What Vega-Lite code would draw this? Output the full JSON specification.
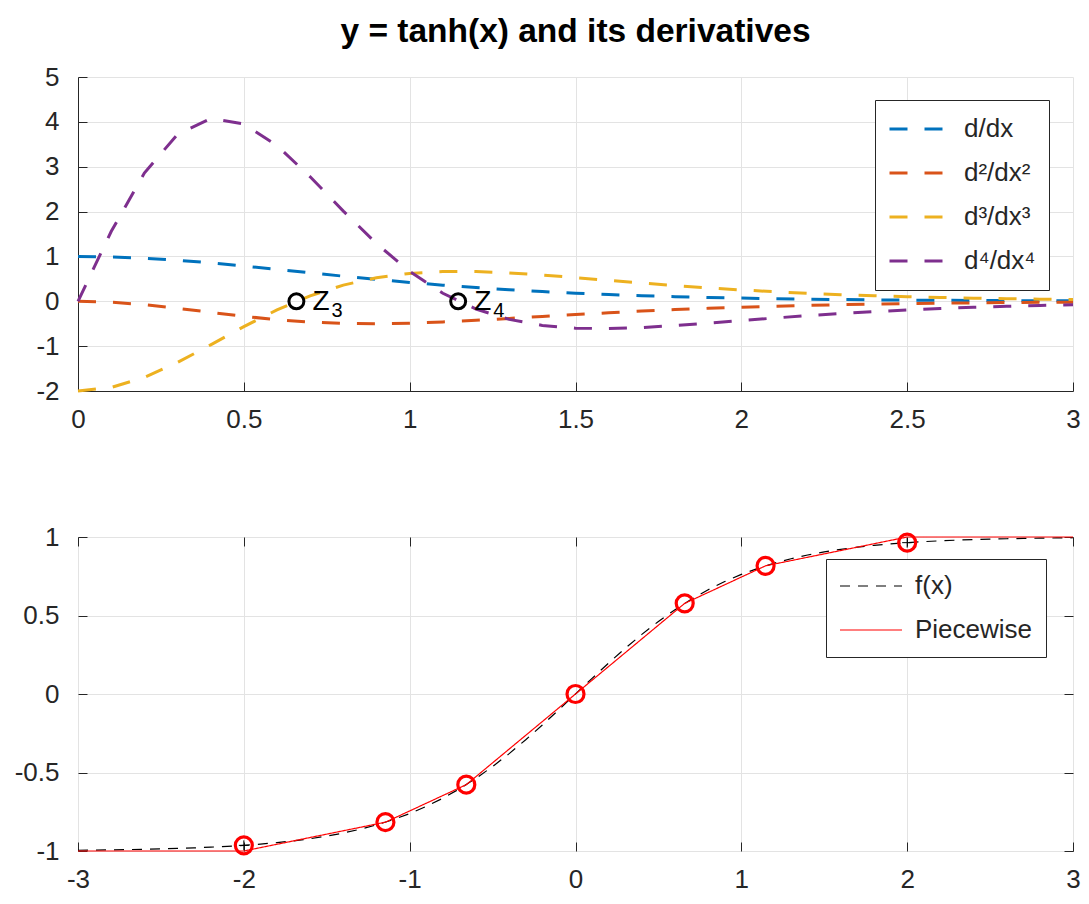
{
  "$schema": "https://vega.github.io/schema/vega-lite/v6.json",
  "background": "white",
  "padding": {"left": 13, "top": 14, "right": 16, "bottom": 10},
  "config": {"font": "Liberation Sans", "view": {"stroke": null}},
  "spacing": 91,
  "resolve": {"scale": {"color": "independent", "strokeDash": "independent"}, "legend": {"color": "independent", "strokeDash": "independent"}},
  "datasets": {
    "deriv": [
      {"x":0,"v":1,"s":"d/dx"},{"x":0.1,"v":0.9901,"s":"d/dx"},{"x":0.2,"v":0.961,"s":"d/dx"},{"x":0.3,"v":0.9151,"s":"d/dx"},{"x":0.4,"v":0.8556,"s":"d/dx"},{"x":0.5,"v":0.7864,"s":"d/dx"},{"x":0.6,"v":0.7116,"s":"d/dx"},{"x":0.7,"v":0.6347,"s":"d/dx"},{"x":0.8,"v":0.5591,"s":"d/dx"},{"x":0.9,"v":0.4869,"s":"d/dx"},{"x":1.0,"v":0.42,"s":"d/dx"},{"x":1.1,"v":0.3592,"s":"d/dx"},{"x":1.2,"v":0.305,"s":"d/dx"},{"x":1.3,"v":0.2574,"s":"d/dx"},{"x":1.4,"v":0.2162,"s":"d/dx"},{"x":1.5,"v":0.1807,"s":"d/dx"},{"x":1.6,"v":0.1505,"s":"d/dx"},{"x":1.7,"v":0.125,"s":"d/dx"},{"x":1.8,"v":0.1036,"s":"d/dx"},{"x":1.9,"v":0.0856,"s":"d/dx"},{"x":2.0,"v":0.0707,"s":"d/dx"},{"x":2.1,"v":0.0582,"s":"d/dx"},{"x":2.2,"v":0.0479,"s":"d/dx"},{"x":2.3,"v":0.0394,"s":"d/dx"},{"x":2.4,"v":0.0324,"s":"d/dx"},{"x":2.5,"v":0.0266,"s":"d/dx"},{"x":2.6,"v":0.0218,"s":"d/dx"},{"x":2.7,"v":0.0179,"s":"d/dx"},{"x":2.8,"v":0.0147,"s":"d/dx"},{"x":2.9,"v":0.012,"s":"d/dx"},{"x":3.0,"v":0.0099,"s":"d/dx"},
      {"x":0,"v":0,"s":"d²/dx²"},{"x":0.1,"v":-0.0197,"s":"d²/dx²"},{"x":0.2,"v":-0.0749,"s":"d²/dx²"},{"x":0.3,"v":-0.1553,"s":"d²/dx²"},{"x":0.4,"v":-0.247,"s":"d²/dx²"},{"x":0.5,"v":-0.3359,"s":"d²/dx²"},{"x":0.6,"v":-0.4105,"s":"d²/dx²"},{"x":0.7,"v":-0.4637,"s":"d²/dx²"},{"x":0.8,"v":-0.493,"s":"d²/dx²"},{"x":0.9,"v":-0.4997,"s":"d²/dx²"},{"x":1.0,"v":-0.4872,"s":"d²/dx²"},{"x":1.1,"v":-0.4604,"s":"d²/dx²"},{"x":1.2,"v":-0.424,"s":"d²/dx²"},{"x":1.3,"v":-0.3823,"s":"d²/dx²"},{"x":1.4,"v":-0.3389,"s":"d²/dx²"},{"x":1.5,"v":-0.2961,"s":"d²/dx²"},{"x":1.6,"v":-0.2557,"s":"d²/dx²"},{"x":1.7,"v":-0.2188,"s":"d²/dx²"},{"x":1.8,"v":-0.1857,"s":"d²/dx²"},{"x":1.9,"v":-0.1566,"s":"d²/dx²"},{"x":2.0,"v":-0.1313,"s":"d²/dx²"},{"x":2.1,"v":-0.1097,"s":"d²/dx²"},{"x":2.2,"v":-0.0913,"s":"d²/dx²"},{"x":2.3,"v":-0.0757,"s":"d²/dx²"},{"x":2.4,"v":-0.0627,"s":"d²/dx²"},{"x":2.5,"v":-0.0518,"s":"d²/dx²"},{"x":2.6,"v":-0.0427,"s":"d²/dx²"},{"x":2.7,"v":-0.0352,"s":"d²/dx²"},{"x":2.8,"v":-0.0289,"s":"d²/dx²"},{"x":2.9,"v":-0.0238,"s":"d²/dx²"},{"x":3.0,"v":-0.0195,"s":"d²/dx²"},
      {"x":0,"v":-2,"s":"d³/dx³"},{"x":0.1,"v":-1.9211,"s":"d³/dx³"},{"x":0.2,"v":-1.6975,"s":"d³/dx³"},{"x":0.3,"v":-1.3643,"s":"d³/dx³"},{"x":0.4,"v":-0.9702,"s":"d³/dx³"},{"x":0.5,"v":-0.5652,"s":"d³/dx³"},{"x":0.6,"v":-0.1917,"s":"d³/dx³"},{"x":0.7,"v":0.1216,"s":"d³/dx³"},{"x":0.8,"v":0.361,"s":"d³/dx³"},{"x":0.9,"v":0.5251,"s":"d³/dx³"},{"x":1.0,"v":0.6216,"s":"d³/dx³"},{"x":1.1,"v":0.6627,"s":"d³/dx³"},{"x":1.2,"v":0.6619,"s":"d³/dx³"},{"x":1.3,"v":0.6321,"s":"d³/dx³"},{"x":1.4,"v":0.5843,"s":"d³/dx³"},{"x":1.5,"v":0.5269,"s":"d³/dx³"},{"x":1.6,"v":0.4662,"s":"d³/dx³"},{"x":1.7,"v":0.4063,"s":"d³/dx³"},{"x":1.8,"v":0.3499,"s":"d³/dx³"},{"x":1.9,"v":0.2985,"s":"d³/dx³"},{"x":2.0,"v":0.2527,"s":"d³/dx³"},{"x":2.1,"v":0.2126,"s":"d³/dx³"},{"x":2.2,"v":0.1779,"s":"d³/dx³"},{"x":2.3,"v":0.1483,"s":"d³/dx³"},{"x":2.4,"v":0.1232,"s":"d³/dx³"},{"x":2.5,"v":0.1021,"s":"d³/dx³"},{"x":2.6,"v":0.0844,"s":"d³/dx³"},{"x":2.7,"v":0.0697,"s":"d³/dx³"},{"x":2.8,"v":0.0574,"s":"d³/dx³"},{"x":2.9,"v":0.0473,"s":"d³/dx³"},{"x":3.0,"v":0.0389,"s":"d³/dx³"},
      {"x":0,"v":0,"s":"d⁴/dx⁴"},{"x":0.1,"v":1.5553,"s":"d⁴/dx⁴"},{"x":0.2,"v":2.8576,"s":"d⁴/dx⁴"},{"x":0.3,"v":3.7225,"s":"d⁴/dx⁴"},{"x":0.4,"v":4.0752,"s":"d⁴/dx⁴"},{"x":0.5,"v":3.9522,"s":"d⁴/dx⁴"},{"x":0.6,"v":3.4691,"s":"d⁴/dx⁴"},{"x":0.7,"v":2.775,"s":"d⁴/dx⁴"},{"x":0.8,"v":2.0111,"s":"d⁴/dx⁴"},{"x":0.9,"v":1.2856,"s":"d⁴/dx⁴"},{"x":1.0,"v":0.6651,"s":"d⁴/dx⁴"},{"x":1.1,"v":0.1785,"s":"d⁴/dx⁴"},{"x":1.2,"v":-0.1728,"s":"d⁴/dx⁴"},{"x":1.3,"v":-0.4041,"s":"d⁴/dx⁴"},{"x":1.4,"v":-0.5382,"s":"d⁴/dx⁴"},{"x":1.5,"v":-0.5992,"s":"d⁴/dx⁴"},{"x":1.6,"v":-0.6087,"s":"d⁴/dx⁴"},{"x":1.7,"v":-0.5846,"s":"d⁴/dx⁴"},{"x":1.8,"v":-0.5407,"s":"d⁴/dx⁴"},{"x":1.9,"v":-0.4867,"s":"d⁴/dx⁴"},{"x":2.0,"v":-0.4294,"s":"d⁴/dx⁴"},{"x":2.1,"v":-0.3731,"s":"d⁴/dx⁴"},{"x":2.2,"v":-0.3203,"s":"d⁴/dx⁴"},{"x":2.3,"v":-0.2725,"s":"d⁴/dx⁴"},{"x":2.4,"v":-0.2301,"s":"d⁴/dx⁴"},{"x":2.5,"v":-0.1932,"s":"d⁴/dx⁴"},{"x":2.6,"v":-0.1614,"s":"d⁴/dx⁴"},{"x":2.7,"v":-0.1343,"s":"d⁴/dx⁴"},{"x":2.8,"v":-0.1115,"s":"d⁴/dx⁴"},{"x":2.9,"v":-0.0923,"s":"d⁴/dx⁴"},{"x":3.0,"v":-0.0762,"s":"d⁴/dx⁴"}
    ],
    "zeros": [
      {"x":0.6585,"y":0,"label":"Z","sub":"3"},
      {"x":1.1462,"y":0,"label":"Z","sub":"4"}
    ],
    "bottom": [
      {"x":-3.0,"y":-0.9951,"c":"f(x)"},{"x":-2.9,"y":-0.994,"c":"f(x)"},{"x":-2.8,"y":-0.9926,"c":"f(x)"},{"x":-2.7,"y":-0.991,"c":"f(x)"},{"x":-2.6,"y":-0.989,"c":"f(x)"},{"x":-2.5,"y":-0.9866,"c":"f(x)"},{"x":-2.4,"y":-0.9837,"c":"f(x)"},{"x":-2.3,"y":-0.9801,"c":"f(x)"},{"x":-2.2,"y":-0.9757,"c":"f(x)"},{"x":-2.1,"y":-0.9705,"c":"f(x)"},{"x":-2.0,"y":-0.964,"c":"f(x)"},{"x":-1.9,"y":-0.9562,"c":"f(x)"},{"x":-1.8,"y":-0.9468,"c":"f(x)"},{"x":-1.7,"y":-0.9354,"c":"f(x)"},{"x":-1.6,"y":-0.9217,"c":"f(x)"},{"x":-1.5,"y":-0.9051,"c":"f(x)"},{"x":-1.4,"y":-0.8854,"c":"f(x)"},{"x":-1.3,"y":-0.8617,"c":"f(x)"},{"x":-1.2,"y":-0.8337,"c":"f(x)"},{"x":-1.1,"y":-0.8005,"c":"f(x)"},{"x":-1.0,"y":-0.7616,"c":"f(x)"},{"x":-0.9,"y":-0.7163,"c":"f(x)"},{"x":-0.8,"y":-0.664,"c":"f(x)"},{"x":-0.7,"y":-0.6044,"c":"f(x)"},{"x":-0.6,"y":-0.537,"c":"f(x)"},{"x":-0.5,"y":-0.4621,"c":"f(x)"},{"x":-0.4,"y":-0.3799,"c":"f(x)"},{"x":-0.3,"y":-0.2913,"c":"f(x)"},{"x":-0.2,"y":-0.1974,"c":"f(x)"},{"x":-0.1,"y":-0.0997,"c":"f(x)"},{"x":0,"y":0,"c":"f(x)"},{"x":0.1,"y":0.0997,"c":"f(x)"},{"x":0.2,"y":0.1974,"c":"f(x)"},{"x":0.3,"y":0.2913,"c":"f(x)"},{"x":0.4,"y":0.3799,"c":"f(x)"},{"x":0.5,"y":0.4621,"c":"f(x)"},{"x":0.6,"y":0.537,"c":"f(x)"},{"x":0.7,"y":0.6044,"c":"f(x)"},{"x":0.8,"y":0.664,"c":"f(x)"},{"x":0.9,"y":0.7163,"c":"f(x)"},{"x":1.0,"y":0.7616,"c":"f(x)"},{"x":1.1,"y":0.8005,"c":"f(x)"},{"x":1.2,"y":0.8337,"c":"f(x)"},{"x":1.3,"y":0.8617,"c":"f(x)"},{"x":1.4,"y":0.8854,"c":"f(x)"},{"x":1.5,"y":0.9051,"c":"f(x)"},{"x":1.6,"y":0.9217,"c":"f(x)"},{"x":1.7,"y":0.9354,"c":"f(x)"},{"x":1.8,"y":0.9468,"c":"f(x)"},{"x":1.9,"y":0.9562,"c":"f(x)"},{"x":2.0,"y":0.964,"c":"f(x)"},{"x":2.1,"y":0.9705,"c":"f(x)"},{"x":2.2,"y":0.9757,"c":"f(x)"},{"x":2.3,"y":0.9801,"c":"f(x)"},{"x":2.4,"y":0.9837,"c":"f(x)"},{"x":2.5,"y":0.9866,"c":"f(x)"},{"x":2.6,"y":0.989,"c":"f(x)"},{"x":2.7,"y":0.991,"c":"f(x)"},{"x":2.8,"y":0.9926,"c":"f(x)"},{"x":2.9,"y":0.994,"c":"f(x)"},{"x":3.0,"y":0.9951,"c":"f(x)"},
      {"x":-3,"y":-1,"c":"Piecewise"},{"x":-2,"y":-1,"c":"Piecewise"},{"x":-1.1462,"y":-0.8165,"c":"Piecewise"},{"x":-0.6585,"y":-0.5774,"c":"Piecewise"},{"x":0,"y":0,"c":"Piecewise"},{"x":0.6585,"y":0.5774,"c":"Piecewise"},{"x":1.1462,"y":0.8165,"c":"Piecewise"},{"x":2,"y":1,"c":"Piecewise"},{"x":3,"y":1,"c":"Piecewise"}
    ],
    "knots": [
      {"x":-2,"y":-0.964},{"x":-1.1462,"y":-0.8165},{"x":-0.6585,"y":-0.5774},{"x":0,"y":0},{"x":0.6585,"y":0.5774},{"x":1.1462,"y":0.8165},{"x":2,"y":0.964}
    ],
    "plus": [
      {"x":-2,"y":-0.964},{"x":2,"y":0.964}
    ]
  },
  "vconcat": [
    {
      "width": 995,
      "height": 314,
      "title": {"text": "y = tanh(x) and its derivatives", "fontSize": 33.5, "fontWeight": "bold", "color": "black", "anchor": "middle", "offset": 15},
      "layer": [
        {
          "data": {"name": "deriv"},
          "mark": {"type": "line", "strokeWidth": 3, "strokeDash": [18, 17]},
          "encoding": {
            "x": {"field": "x", "type": "quantitative", "scale": {"domain": [0, 3], "nice": false, "zero": false},
              "axis": {"title": null, "values": [0, 0.5, 1, 1.5, 2, 2.5, 3], "labelExpr": "'' + datum.value", "grid": true, "gridColor": "#e3e3e3", "domainColor": "#262626", "tickColor": "#262626", "tickSize": -9, "labelFontSize": 26, "labelColor": "#262626", "labelPadding": 24, "labelFlush": false, "labelOverlap": false, "minExtent": 40, "maxExtent": 40}},
            "y": {"field": "v", "type": "quantitative", "scale": {"domain": [-2, 5], "nice": false, "zero": false},
              "axis": {"title": null, "values": [-2, -1, 0, 1, 2, 3, 4, 5], "labelExpr": "'' + datum.value", "grid": true, "gridColor": "#e3e3e3", "domainColor": "#262626", "tickColor": "#262626", "tickSize": -9, "labelFontSize": 26, "labelColor": "#262626", "labelPadding": 28, "labelFlush": false, "labelOverlap": false, "minExtent": 60, "maxExtent": 60}},
            "color": {"field": "s", "type": "nominal", "sort": ["d/dx", "d²/dx²", "d³/dx³", "d⁴/dx⁴"],
              "scale": {"domain": ["d/dx", "d²/dx²", "d³/dx³", "d⁴/dx⁴"], "range": ["#0072BD", "#D95319", "#EDB120", "#7E2F8E"]},
              "legend": {"title": null, "orient": "none", "legendX": 797, "legendY": 23, "symbolType": "stroke", "symbolSize": 2809, "symbolStrokeWidth": 3, "symbolDash": [18, 17], "labelFontSize": 26, "labelColor": "#262626", "labelOffset": 20, "strokeColor": "#262626", "fillColor": "white", "padding": 13, "clipHeight": 32, "rowPadding": 12}}
          }
        },
        {
          "data": {"name": "zeros"},
          "mark": {"type": "point", "shape": "circle", "filled": false, "size": 225, "strokeWidth": 3, "color": "black", "opacity": 1},
          "encoding": {
            "x": {"field": "x", "type": "quantitative"},
            "y": {"field": "y", "type": "quantitative"}
          }
        },
        {
          "data": {"name": "zeros"},
          "mark": {"type": "text", "align": "left", "baseline": "middle", "dx": 16, "dy": 1, "fontSize": 28, "color": "black"},
          "encoding": {
            "x": {"field": "x", "type": "quantitative"},
            "y": {"field": "y", "type": "quantitative"},
            "text": {"field": "label"}
          }
        },
        {
          "data": {"name": "zeros"},
          "mark": {"type": "text", "align": "left", "baseline": "middle", "dx": 35, "dy": 10, "fontSize": 20, "color": "black"},
          "encoding": {
            "x": {"field": "x", "type": "quantitative"},
            "y": {"field": "y", "type": "quantitative"},
            "text": {"field": "sub"}
          }
        }
      ]
    },
    {
      "width": 995,
      "height": 314,
      "view": {"stroke": "#262626", "strokeWidth": 1},
      "resolve": {"axis": {"x": "independent", "y": "independent"}},
      "layer": [
        {
          "data": {"name": "bottom"},
          "mark": {"type": "line", "strokeWidth": 1.2},
          "encoding": {
            "x": {"field": "x", "type": "quantitative", "scale": {"domain": [-3, 3], "nice": false, "zero": false},
              "axis": {"title": null, "values": [-3, -2, -1, 0, 1, 2, 3], "labelExpr": "'' + datum.value", "grid": true, "gridColor": "#e3e3e3", "domain": false, "tickColor": "#262626", "tickSize": -9, "labelFontSize": 26, "labelColor": "#262626", "labelPadding": 24, "labelFlush": false, "labelOverlap": false, "minExtent": 40, "maxExtent": 40}},
            "y": {"field": "y", "type": "quantitative", "scale": {"domain": [-1, 1], "nice": false, "zero": false},
              "axis": {"title": null, "values": [-1, -0.5, 0, 0.5, 1], "labelExpr": "'' + datum.value", "grid": true, "gridColor": "#e3e3e3", "domain": false, "tickColor": "#262626", "tickSize": -9, "labelFontSize": 26, "labelColor": "#262626", "labelPadding": 28, "labelFlush": false, "labelOverlap": false, "minExtent": 60, "maxExtent": 60}},
            "color": {"field": "c", "type": "nominal",
              "scale": {"domain": ["f(x)", "Piecewise"], "range": ["#000000", "#ff0000"]},
              "legend": {"title": null, "orient": "none", "legendX": 748, "legendY": 22, "symbolType": "stroke", "symbolSize": 3844, "symbolStrokeWidth": 1.2, "labelFontSize": 26, "labelColor": "#262626", "labelOffset": 12, "strokeColor": "#262626", "fillColor": "white", "padding": 13, "clipHeight": 28, "rowPadding": 16}},
            "strokeDash": {"field": "c", "type": "nominal",
              "scale": {"domain": ["f(x)", "Piecewise"], "range": [[10, 8], [1, 0]]},
              "legend": {"title": null, "orient": "none", "legendX": 748, "legendY": 22, "symbolType": "stroke", "symbolSize": 3844, "symbolStrokeWidth": 1.2, "labelFontSize": 26, "labelColor": "#262626", "labelOffset": 12, "strokeColor": "#262626", "fillColor": "white", "padding": 13, "clipHeight": 28, "rowPadding": 16}}
          }
        },
        {
          "data": {"name": "knots"},
          "mark": {"type": "point", "shape": "circle", "filled": false, "size": 289, "strokeWidth": 3.2, "color": "#ff0000", "opacity": 1},
          "encoding": {
            "x": {"field": "x", "type": "quantitative", "axis": {"orient": "top", "title": null, "labels": false, "grid": false, "domain": false, "values": [-3, -2, -1, 0, 1, 2, 3], "tickColor": "#262626", "tickSize": -9, "minExtent": 0, "maxExtent": 0}},
            "y": {"field": "y", "type": "quantitative", "axis": {"orient": "right", "title": null, "labels": false, "grid": false, "domain": false, "values": [-1, -0.5, 0, 0.5, 1], "tickColor": "#262626", "tickSize": -9, "minExtent": 0, "maxExtent": 0}}
          }
        },
        {
          "data": {"name": "plus"},
          "mark": {"type": "point", "shape": "M-1,0H1M0,-1V1", "filled": false, "size": 100, "strokeWidth": 1, "color": "black", "opacity": 1},
          "encoding": {
            "x": {"field": "x", "type": "quantitative", "axis": null},
            "y": {"field": "y", "type": "quantitative", "axis": null}
          }
        }
      ]
    }
  ]
}
